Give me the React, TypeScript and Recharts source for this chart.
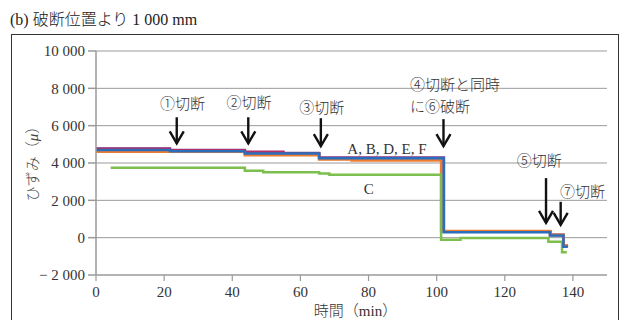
import React from "react";
import {
    LineChart,
    Line,
    XAxis,
    YAxis,
    CartesianGrid,
    ReferenceLine,
    ReferenceDot,
} from "recharts";

// time (min) at each step change
const TIMES = [0, 4.3, 21.7, 43.7, 49.1, 55, 65.5, 68.5, 75, 101.3, 102.1, 107, 132.8, 133.3, 136.8, 137.2, 138.2];

// strain (μ) per gauge
const GAUGE_A = [4700, 4700, 4630, 4510, 4510, 4510, 4250, 4250, 4250, 4250, 290, 290, 290, 110, 110, -480, -540];
const GAUGE_B = [4600, 4600, 4600, 4420, 4420, 4420, 4190, 4190, 4140, 360, 360, 360, 360, 160, 160, -400, -430];
const GAUGE_C = [null, 3740, 3740, 3580, 3510, 3510, 3440, 3370, 3370, -110, -110, -20, -220, -220, -780, -780, -780];
const GAUGE_D = [4760, 4760, 4680, 4600, 4600, 4510, 4270, 4270, 4270, 4270, 330, 330, 330, 140, 140, -450, -500];
const GAUGE_E = [4780, 4780, 4690, 4560, 4560, 4540, 4300, 4300, 4300, 4300, 340, 340, 340, 150, 150, -470, -510];
const GAUGE_F = [4650, 4650, 4620, 4460, 4460, 4460, 4220, 4220, 4200, 4200, 320, 320, 320, 130, 130, -440, -480];

const X_TICKS = [0, 20, 40, 60, 80, 100, 120, 140];
const Y_TICKS = [-2000, 0, 2000, 4000, 6000, 8000, 10000];

// cut arrows: time, top and tip strain
const ARROW_X = [23.7, 44.7, 66, 102, 132.1, 136.4];
const ARROW_FROM = [6450, 6450, 6400, 6350, 3190, 1920];
const ARROW_TO = [5050, 5050, 4900, 4900, 790, 680];

// notes: text, time, strain, anchor
const NOTE_TEXT = ["①切断", "②切断", "③切断", "④切断と同時", "に⑥破断", "⑤切断", "⑦切断", "A, B, D, E, F", "C"];
const NOTE_X = [25.4, 44.9, 66.3, 92.2, 92.2, 123.5, 136.2, 85.4, 80.1];
const NOTE_Y = [7150, 7190, 6950, 8170, 7010, 4100, 2445, 4743, 2604];
const NOTE_ANCHOR = ["middle", "middle", "middle", "start", "start", "start", "start", "middle", "middle"];

const data = TIMES.map((t, i) => ({
    t,
    A: GAUGE_A[i],
    B: GAUGE_B[i],
    C: GAUGE_C[i],
    D: GAUGE_D[i],
    E: GAUGE_E[i],
    F: GAUGE_F[i],
}));

const FONT = "'Liberation Serif', 'Noto Sans CJK JP', serif";
const GRID = "#9a9a9a";

const fmt = (v: number) => {
    const s = String(Math.abs(v)).replace(/\B(?=(\d{3})+(?!\d))/g, " ");
    return v < 0 ? "\u2212 " + s : s;
};

const Arrow = (p: any) => {
    const { x1, y1, x2, y2 } = p;
    return (
        <g>
            <line x1={x1} y1={y1} x2={x2} y2={y2} stroke="#111" strokeWidth={2.4} />
            <polyline
                points={`${x2 - 7},${y2 - 12} ${x2},${y2} ${x2 + 7},${y2 - 12}`}
                fill="none"
                stroke="#111"
                strokeWidth={2.4}
            />
        </g>
    );
};

export default function App() {
    return (
        <div
            style={{
                position: "absolute",
                left: 0,
                top: 0,
                width: 622,
                height: 320,
                background: "#fff",
                overflow: "hidden",
                fontFamily: FONT,
            }}
        >
            <div
                style={{
                    position: "absolute",
                    left: 10,
                    top: 6,
                    fontSize: 16,
                    color: "#222",
                    whiteSpace: "nowrap",
                    fontWeight: 300,
                }}
            >
                (<b>b</b>) 破断位置より 1 000 mm
            </div>
            <div
                style={{
                    position: "absolute",
                    left: 11,
                    top: 34,
                    width: 606,
                    height: 320,
                    border: "1px solid #333",
                }}
            />
            <div style={{ position: "absolute", left: 0, top: 0 }}>
                <LineChart
                    width={622}
                    height={320}
                    data={data}
                    margin={{ top: 51, right: 15, bottom: 0, left: 20 }}
                >
                    <CartesianGrid vertical={false} stroke={GRID} strokeWidth={1} />
                    <XAxis
                        dataKey="t"
                        type="number"
                        domain={[0, 150]}
                        ticks={X_TICKS}
                        height={45}
                        stroke={GRID}
                        strokeWidth={1.2}
                        tickSize={6}
                        tickMargin={5}
                        tick={{ fill: "#333", fontSize: 15, fontFamily: FONT }}
                        label={{
                            content: (props: any) => {
                                const vb = props.viewBox;
                                return (
                                    <text
                                        x={vb.x + vb.width / 2 + 4}
                                        y={vb.y + 41}
                                        textAnchor="middle"
                                        fontSize={15}
                                        fontFamily={FONT}
                                        fontWeight={300}
                                        fill="#333"
                                    >
                                        時間（min）
                                    </text>
                                );
                            },
                        }}
                    />
                    <YAxis
                        type="number"
                        domain={[-2000, 10000]}
                        ticks={Y_TICKS}
                        width={76}
                        stroke={GRID}
                        strokeWidth={1.5}
                        tickSize={8}
                        tickMargin={3}
                        tickFormatter={fmt}
                        tick={{ fill: "#333", fontSize: 15, fontFamily: FONT }}
                        label={{
                            content: (props: any) => {
                                const vb = props.viewBox;
                                const cx = vb.x + 13;
                                const cy = vb.y + vb.height / 2 - 3;
                                return (
                                    <text
                                        x={cx}
                                        y={cy}
                                        transform={`rotate(-90, ${cx}, ${cy})`}
                                        textAnchor="middle"
                                        dominantBaseline="central"
                                        fontSize={15}
                                        fontFamily={FONT}
                                        fontWeight={300}
                                        fill="#444"
                                    >
                                        ひずみ（<tspan fontStyle="italic">μ</tspan>）
                                    </text>
                                );
                            },
                        }}
                    />
                    <Line type="stepAfter" dataKey="F" stroke="#b8b8b8" strokeWidth={2.5} dot={false} isAnimationActive={false} />
                    <Line type="stepAfter" dataKey="E" stroke="#7a4a9c" strokeWidth={2.5} dot={false} isAnimationActive={false} />
                    <Line type="stepAfter" dataKey="D" stroke="#b0306a" strokeWidth={2.5} dot={false} isAnimationActive={false} />
                    <Line type="stepAfter" dataKey="B" stroke="#ed7d31" strokeWidth={2.5} dot={false} isAnimationActive={false} />
                    <Line type="stepAfter" dataKey="C" stroke="#7cbf4e" strokeWidth={2.5} dot={false} isAnimationActive={false} />
                    <Line type="stepAfter" dataKey="A" stroke="#2a6ebb" strokeWidth={2.5} dot={false} isAnimationActive={false} />
                    {ARROW_X.map((x, i) => (
                        <ReferenceLine
                            key={"arrow" + i}
                            segment={[
                                { x, y: ARROW_FROM[i] },
                                { x, y: ARROW_TO[i] },
                            ]}
                            shape={Arrow}
                        />
                    ))}
                    {NOTE_TEXT.map((txt, i) => (
                        <ReferenceDot
                            key={"note" + i}
                            x={NOTE_X[i]}
                            y={NOTE_Y[i]}
                            r={0}
                            shape={(p: any) => (
                                <text
                                    x={p.cx}
                                    y={p.cy}
                                    textAnchor={NOTE_ANCHOR[i] as any}
                                    dominantBaseline="central"
                                    fontSize={15}
                                    fontFamily={FONT}
                                    fontWeight={300}
                                    fill="#333"
                                >
                                    {txt}
                                </text>
                            )}
                        />
                    ))}
                </LineChart>
            </div>
        </div>
    );
}
